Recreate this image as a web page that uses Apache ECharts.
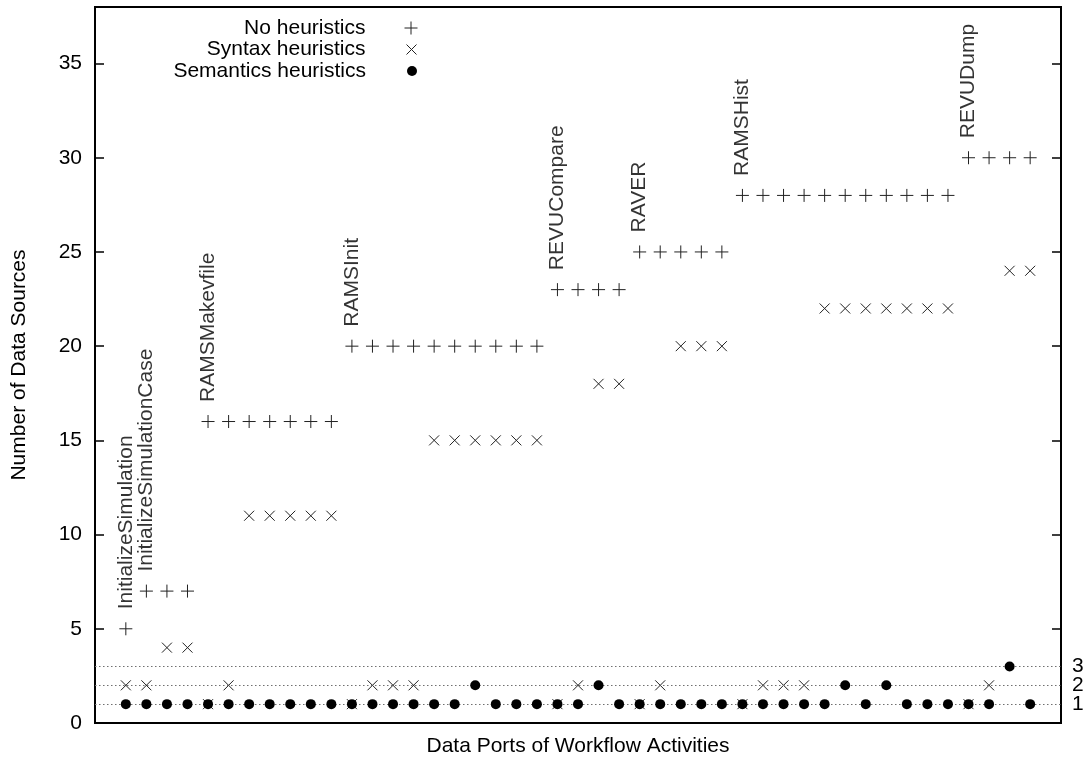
<!DOCTYPE html>
<html>
<head>
<meta charset="utf-8">
<script src="https://cdn.jsdelivr.net/npm/echarts@6/dist/echarts.min.js"></script>
<style>html,body{margin:0;padding:0;background:#fff}#c{width:1089px;height:762px}</style>
</head>
<body>
<div id="c"></div>
<script>
// Data port index (x) for each measured port
const ports = [1,2,3,4,5,6,7,8,9,10,11,12,13,14,15,16,17,18,19,20,21,22,23,24,25,26,27,28,29,30,31,32,33,34,35,36,37,38,39,40,41,42,43,44,45];
const noHeuristics = [5,7,7,7,16,16,16,16,16,16,16,20,20,20,20,20,20,20,20,20,20,23,23,23,23,25,25,25,25,25,28,28,28,28,28,28,28,28,28,28,28,30,30,30,30];
const syntaxHeuristics = [2,2,4,4,1,2,11,11,11,11,11,1,2,2,2,15,15,15,15,15,15,1,2,18,18,1,2,20,20,20,1,2,2,2,22,22,22,22,22,22,22,1,2,24,24];
const semanticsHeuristics = [1,1,1,1,1,1,1,1,1,1,1,1,1,1,1,1,1,2,1,1,1,1,1,2,1,1,1,1,1,1,1,1,1,1,1,2,1,2,1,1,1,1,1,3,1];
// Workflow activities: name and first port index
const activities = ['InitializeSimulation','InitializeSimulationCase','RAMSMakevfile','RAMSInit','REVUCompare','RAVER','RAMSHist','REVUDump'];
const activityStart = [1,2,5,12,22,26,31,42];
const yTicks = [0,5,10,15,20,25,30,35];
const refLines = [1,2,3];
const seriesNames = ['No heuristics','Syntax heuristics','Semantics heuristics'];

const FONT = 'Liberation Sans, Arial, Helvetica, sans-serif';
const FS = 21;
const plusPath = 'path://M5,0L5,10M0,5L10,5';
const crossPath = 'path://M0,0L10,10M0,10L10,0';
const thinStyle = {color: 'transparent', borderColor: '#222', borderWidth: 1, opacity: 1};
const dotStyle = {color: '#000', borderWidth: 0, opacity: 1};

const zip = (xs, ys) => xs.map((x, i) => [x, ys[i]]);

const chart = echarts.init(document.getElementById('c'), null, {renderer: 'canvas'});
const legendCfg = [
  {top: 17.5, right: 671, size: 13, pad: 34, icon: plusPath, style: thinStyle},
  {top: 39, right: 672, size: 10, pad: 36, icon: crossPath, style: thinStyle},
  {top: 60.5, right: 672, size: 10, pad: 36, icon: 'circle', style: dotStyle}
];
const yAxisBase = {
  type: 'value', min: 0, max: 38, interval: 5,
  axisLine: {show: false, onZero: false},
  axisTick: {show: true, inside: true, length: 9, customValues: yTicks, lineStyle: {color: '#000', width: 1.5}},
  splitLine: {show: false}
};
const option = {
  animation: false,
  backgroundColor: '#fff',
  textStyle: {fontFamily: FONT},
  grid: {left: 95, right: 28, top: 7, bottom: 35, show: true, borderColor: '#000', borderWidth: 2, backgroundColor: 'transparent'},
  legend: seriesNames.map((n, i) => ({
    data: [{name: n, icon: legendCfg[i].icon}], orient: 'vertical', align: 'right',
    right: legendCfg[i].right, top: legendCfg[i].top,
    padding: 0, itemWidth: legendCfg[i].size, itemHeight: legendCfg[i].size, selectedMode: false,
    itemStyle: legendCfg[i].style,
    textStyle: {fontFamily: FONT, fontSize: FS, color: '#000', lineHeight: 21, padding: [0, legendCfg[i].pad, 0, 0]}
  })),
  xAxis: {
    type: 'value', min: -0.5, max: 46.5,
    axisLine: {show: false, onZero: false}, axisTick: {show: false}, axisLabel: {show: false}, splitLine: {show: false},
    name: 'Data Ports of Workflow Activities', nameLocation: 'middle', nameGap: 13,
    nameTextStyle: {fontFamily: FONT, fontSize: FS, color: '#000', verticalAlign: 'top'}
  },
  yAxis: [Object.assign({}, yAxisBase, {
    position: 'left',
    axisLabel: {customValues: yTicks, fontFamily: FONT, fontSize: FS, color: '#000', margin: 13},
    name: 'Number of Data Sources', nameLocation: 'middle', nameGap: 65,
    nameTextStyle: {fontFamily: FONT, fontSize: FS, color: '#000'}
  }), Object.assign({}, yAxisBase, {
    position: 'right',
    axisLabel: {show: false}
  })],
  series: [
    {
      type: 'scatter', name: '_ref', data: [], silent: true, z: 1,
      markLine: {
        silent: true, symbol: 'none',
        label: {show: true, position: 'end', distance: 11, formatter: p => String(p.value),
                fontFamily: FONT, fontSize: FS, color: '#000'},
        lineStyle: {color: '#707070', width: 1.2, type: [1.5, 2.5]},
        data: refLines.map(v => ({yAxis: v}))
      }
    },
    {
      type: 'scatter', name: seriesNames[0], data: zip(ports, noHeuristics), z: 3,
      symbol: plusPath, symbolSize: 13, itemStyle: thinStyle
    },
    {
      type: 'scatter', name: seriesNames[1], data: zip(ports, syntaxHeuristics), z: 4,
      symbol: crossPath, symbolSize: 10, itemStyle: thinStyle
    },
    {
      type: 'scatter', name: seriesNames[2], data: zip(ports, semanticsHeuristics), z: 5,
      symbol: 'circle', symbolSize: 10, itemStyle: dotStyle
    },
    {
      type: 'scatter', name: '_labels', silent: true, z: 6,
      symbolSize: 1, itemStyle: {color: 'transparent'},
      data: activities.map((n, i) => ({name: n, value: [activityStart[i], noHeuristics[activityStart[i] - 1]]})),
      label: {
        show: true, position: 'top', distance: 19, rotate: 90, align: 'left', verticalAlign: 'middle',
        formatter: '{b}', fontFamily: FONT, fontSize: FS, color: '#000'
      }
    }
  ]
};
chart.setOption(option);
</script>
</body>
</html>
